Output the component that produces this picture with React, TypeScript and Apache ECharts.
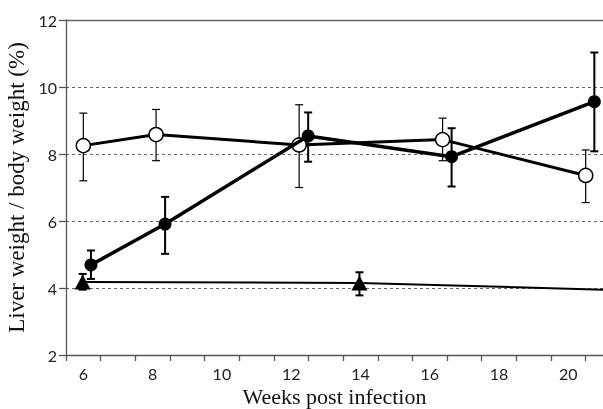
import React, { useEffect, useRef } from "react";
import * as echarts from "echarts";

// Open circles
const openX = [6.0, 8.1, 12.23, 16.37, 20.5];
const openY = [8.25, 8.58, 8.27, 8.43, 7.36];
const openHi = [9.22, 9.33, 9.47, 9.07, 8.12];
const openLo = [7.2, 7.8, 7.0, 7.8, 6.55];

// Filled circles
const fillX = [6.22, 8.36, 12.49, 16.63, 20.75];
const fillY = [4.69, 5.91, 8.54, 7.92, 9.56];
const fillHi = [5.12, 6.72, 9.24, 8.77, 11.03];
const fillLo = [4.27, 5.02, 7.77, 7.03, 8.08];

// Triangles
const triX = [5.98, 13.97, 21.0];
const triY = [4.18, 4.15, 3.95];
const triHi = [4.42, 4.47, null];
const triLo = [3.95, 3.78, null];

const xLabels = [6, 8, 10, 12, 14, 16, 18, 20];
const xTicks = [5.5, 6.5, 7.5, 8.5, 9.5, 10.5, 11.5, 12.5, 13.5, 14.5, 15.5, 16.5, 17.5, 18.5, 19.5, 20.5];
const yTicks = [2, 4, 6, 8, 10, 12];

function errData(xs: number[], lo: (number | null)[], hi: (number | null)[]) {
  const out: number[][] = [];
  xs.forEach((x, i) => {
    if (lo[i] != null && hi[i] != null) out.push([x, lo[i] as number, hi[i] as number]);
  });
  return out;
}

function errSeries(data: number[][], width: number) {
  return {
    type: "custom",
    z: 1,
    data,
    encode: { x: 0, y: [1, 2] },
    renderItem: (params: any, api: any) => {
      const x = api.value(0);
      const lo = api.coord([x, api.value(1)]);
      const hi = api.coord([x, api.value(2)]);
      const cap = 4;
      const style = { stroke: "#000", lineWidth: width };
      return {
        type: "group",
        children: [
          { type: "line", shape: { x1: lo[0], y1: lo[1], x2: hi[0], y2: hi[1] }, style },
          { type: "line", shape: { x1: hi[0] - cap, y1: hi[1], x2: hi[0] + cap, y2: hi[1] }, style },
          { type: "line", shape: { x1: lo[0] - cap, y1: lo[1], x2: lo[0] + cap, y2: lo[1] }, style },
        ],
      };
    },
  };
}

export default function App() {
  const ref = useRef<HTMLDivElement>(null);
  useEffect(() => {
    if (!ref.current) return;
    const chart = echarts.init(ref.current, null, { renderer: "svg" });
    const triData = triX.map((x, i) => {
      if (i === triX.length - 1) return { value: [x, triY[i]], symbol: "none" };
      return [x, triY[i]];
    });
    chart.setOption({
      animation: false,
      grid: { left: 66, top: 20, right: 0, bottom: 54, outerBoundsMode: "none", containLabel: false },
      xAxis: [
        {
          type: "value",
          min: 5.5,
          max: 21,
          name: "Weeks post infection",
          nameLocation: "middle",
          nameGap: 28,
          nameTextStyle: { fontFamily: "Liberation Serif", fontSize: 22, color: "#111" },
          axisLine: { show: true, lineStyle: { color: "#555", width: 1.3 } },
          axisTick: { show: true, inside: false, length: 6, customValues: xTicks, lineStyle: { color: "#555", width: 1.3 } },
          axisLabel: { customValues: xLabels, fontFamily: "Lato", fontSize: 16, color: "#222", margin: 10 },
          splitLine: { show: false },
        },
        {
          type: "value",
          position: "top",
          min: 5.5,
          max: 21,
          axisLine: { show: true, lineStyle: { color: "#666", width: 1.3 } },
          axisTick: { show: false },
          axisLabel: { show: false },
          splitLine: { show: false },
        },
      ],
      yAxis: {
        type: "value",
        min: 2,
        max: 12,
        interval: 2,
        name: "Liver weight / body weight (%)",
        nameLocation: "middle",
        nameGap: 30,
        nameTextStyle: { fontFamily: "Liberation Serif", fontSize: 23, color: "#111" },
        axisLine: { show: true, lineStyle: { color: "#555", width: 1.3 } },
        axisTick: { show: true, length: 7, lineStyle: { color: "#555", width: 1.3 } },
        axisLabel: { fontFamily: "Lato", fontSize: 16, color: "#222", margin: 9, customValues: yTicks },
        splitLine: {
          show: true,
          lineStyle: { color: "#666", type: [3, 3], width: 1 },
          showMinLine: false,
          showMaxLine: false,
        },
      },
      series: [
        errSeries(errData(openX, openLo, openHi), 1.2),
        errSeries(errData(fillX, fillLo, fillHi), 2),
        errSeries(errData(triX, triLo, triHi), 2),
        {
          type: "line",
          z: 2,
          data: openX.map((x, i) => [x, openY[i]]),
          symbol: "circle",
          symbolSize: 14,
          showAllSymbol: true,
          lineStyle: { color: "#000", width: 3 },
          itemStyle: { color: "#fff", borderColor: "#000", borderWidth: 1.5 },
        },
        {
          type: "line",
          z: 3,
          data: fillX.map((x, i) => [x, fillY[i]]),
          symbol: "circle",
          symbolSize: 13,
          showAllSymbol: true,
          lineStyle: { color: "#000", width: 3.5 },
          itemStyle: { color: "#000", borderColor: "#000", borderWidth: 0 },
        },
        {
          type: "line",
          z: 3,
          data: triData,
          symbol: "triangle",
          symbolSize: [16, 15],
          showAllSymbol: true,
          lineStyle: { color: "#000", width: 2 },
          itemStyle: { color: "#000", borderWidth: 0 },
        },
      ],
    });
    return () => chart.dispose();
  }, []);
  return <div ref={ref} style={{ position: "fixed", left: 0, top: 0, width: 603, height: 409 }} />;
}
